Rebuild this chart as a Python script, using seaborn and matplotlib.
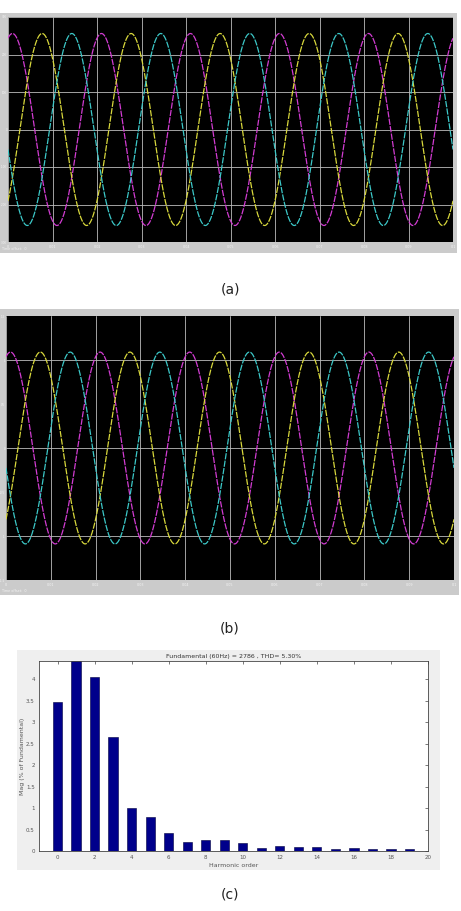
import numpy as np
import pandas as pd
import seaborn as sns
import matplotlib.pyplot as plt
from matplotlib.patches import Rectangle

# waveform readings (both scope panels show the same three phases)
phase_names = ['A', 'B', 'C']
phase_colors = ['#d23cd2', '#d8d83c', '#3cc8c8']
phase_shift_deg = [18, 138, 258]
freq_hz = 50
t_end = 0.1
amp_a = 256
amp_b = 1.09

time_ticks = [0, 0.01, 0.02, 0.03, 0.04, 0.05, 0.06, 0.07, 0.08, 0.09, 0.1]
time_labels = ['0', '0.01', '0.02', '0.03', '0.04', '0.05', '0.06', '0.07', '0.08', '0.09', '0.1']
ya_ticks = [-300, -200, -100, 0, 100, 200, 300]
yb_major = [-1, 0, 1]
yb_minor = [-1.5, -0.5, 0.5, 1.5]

# harmonic spectrum
harm_order = list(range(20))
harm_mag = [3.47, 4.5, 4.05, 2.65, 1.0, 0.8, 0.43, 0.2, 0.25, 0.26,
            0.19, 0.07, 0.12, 0.1, 0.1, 0.05, 0.08, 0.05, 0.04, 0.05]
harm_title = 'Fundamental (60Hz) = 2786 , THD= 5.30%'

W, H = 461, 911
sns.set_theme(style='white')
plt.rcParams['font.family'] = ['DejaVu Sans']

fig = plt.figure(figsize=(W / 100, H / 100), dpi=100)
fig.patch.set_facecolor('white')


def box(x0, y0, x1, y1):
    return [x0 / W, 1 - y1 / H, (x1 - x0) / W, (y1 - y0) / H]


def frame(x0, y0, x1, y1, color):
    fig.add_artist(Rectangle((x0 / W, 1 - y1 / H), (x1 - x0) / W, (y1 - y0) / H,
                             transform=fig.transFigure, facecolor=color,
                             edgecolor='none', zorder=0))


t = np.linspace(0, t_end, 3000)


def wave_frame(amp):
    rows = []
    for name, sh in zip(phase_names, phase_shift_deg):
        v = amp * np.cos(2 * np.pi * freq_hz * t - np.deg2rad(sh))
        rows.append(pd.DataFrame({'t': t, 'v': v, 'phase': name}))
    return pd.concat(rows)


def scope(ax, df, ylim):
    ax.set_facecolor('black')
    sns.lineplot(data=df, x='t', y='v', hue='phase', palette=phase_colors,
                 linewidth=0.9, linestyle=(0, (5, 1)), legend=False, ax=ax)
    ax.set_xlim(0, t_end)
    ax.set_ylim(*ylim)
    ax.set_xticks(time_ticks)
    ax.set_xticklabels(time_labels)
    ax.grid(True, which='major', color='#bcbcbc', linewidth=0.6)
    ax.set_axisbelow(True)
    ax.tick_params(axis='x', which='both', length=0, labelsize=2.4, labelcolor='#f4f4f4', pad=2)
    ax.tick_params(axis='y', which='both', length=0, labelsize=2.0, labelcolor='#f4f4f4', pad=0.6)
    ax.set_xlabel('')
    ax.set_ylabel('')
    for s in ax.spines.values():
        s.set_visible(False)


# (a)
frame(0, 13, 457, 253, '#cbcbcb')
ax1 = fig.add_axes(box(8, 17, 453, 242))
scope(ax1, wave_frame(amp_a), (-300, 300))
ax1.set_yticks(ya_ticks)
ax1.set_yticklabels([str(v) for v in ya_ticks])
fig.text(2 / W, 1 - 250 / H, 'Time offset:  0', fontsize=2.4, color='#f4f4f4')
fig.text(230 / W, 1 - 289 / H, '(a)', fontsize=10, ha='center', va='center', color='#222222')

# (b)
frame(0, 309, 459, 595, '#cbcbcb')
ax2 = fig.add_axes(box(6, 316, 454, 580))
scope(ax2, wave_frame(amp_b), (-1.5, 1.5))
ax2.set_yticks(yb_major)
ax2.set_yticklabels(['-1', '0', '1'])
ax2.set_yticks(yb_minor, minor=True)
ax2.set_yticklabels(['-1.5', '-0.5', '0.5', '1.5'], minor=True)
fig.text(2 / W, 1 - 592 / H, 'Time offset:  0', fontsize=2.4, color='#f4f4f4')
fig.text(230 / W, 1 - 628 / H, '(b)', fontsize=10, ha='center', va='center', color='#222222')

# (c)
frame(17, 650, 440, 870, '#efefef')
ax3 = fig.add_axes(box(39, 661, 428, 851))
ax3.set_facecolor('white')
hdf = pd.DataFrame({'order': harm_order, 'mag': harm_mag})
sns.barplot(data=hdf, x='order', y='mag', native_scale=True, width=0.5,
            color='#00008b', saturation=1, edgecolor='#000040', linewidth=0.4, ax=ax3)
ax3.set_xlim(-1, 20)
ax3.set_ylim(0, 4.43)
ax3.set_xticks(list(range(0, 21, 2)))
ax3.set_yticks([0, 0.5, 1, 1.5, 2, 2.5, 3, 3.5, 4])
ax3.set_yticklabels(['0', '0.5', '1', '1.5', '2', '2.5', '3', '3.5', '4'])
ax3.tick_params(direction='in', top=True, right=True, length=2, width=0.5,
                labelsize=4, labelcolor='#555555', pad=3, color='#444444')
for s in ax3.spines.values():
    s.set_color('#444444')
    s.set_linewidth(0.6)
ax3.set_title(harm_title, fontsize=4.5, pad=2, color='#333333')
ax3.set_xlabel('Harmonic order', fontsize=4.5, labelpad=2, color='#555555')
ax3.set_ylabel('Mag (% of Fundamental)', fontsize=4.5, labelpad=1, color='#555555')
fig.text(230 / W, 1 - 895 / H, '(c)', fontsize=10, ha='center', va='center', color='#222222')

fig.savefig('out.png', dpi=100)
